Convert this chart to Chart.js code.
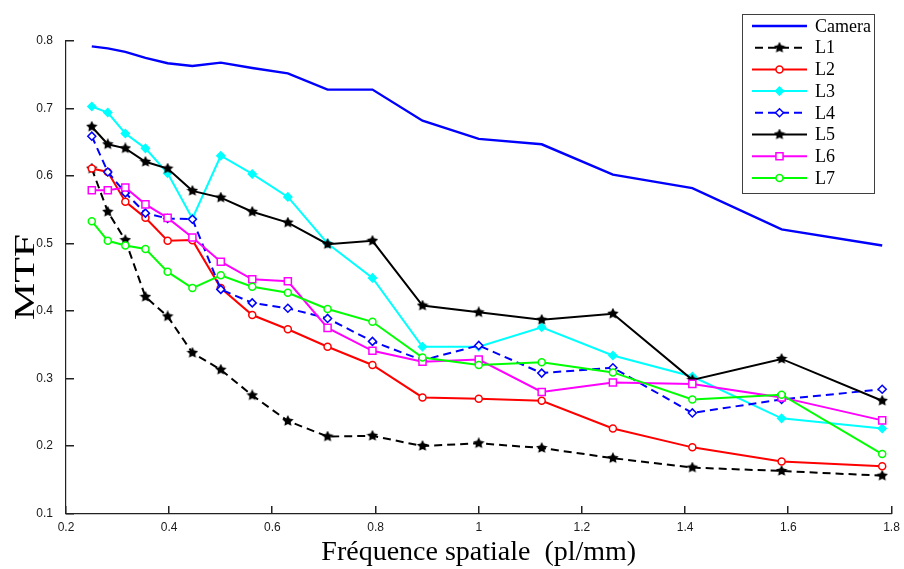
<!DOCTYPE html>
<html>
<head>
<meta charset="utf-8">
<title>MTF</title>
<script src="https://cdn.jsdelivr.net/npm/chart.js@4.4.1/dist/chart.umd.min.js"></script>
<style>
  html, body { margin: 0; padding: 0; background: #fff; }
  #wrap { position: relative; width: 904px; height: 569px; }
</style>
</head>
<body>
<div id="wrap"><canvas id="mtfChart"></canvas></div>
<script>
  'use strict';

  // Spatial frequencies (pl/mm), shared by every curve
  const freq = [0.25, 0.281, 0.315, 0.354, 0.397, 0.445, 0.5, 0.561, 0.63,
    0.707, 0.794, 0.891, 1.0, 1.122, 1.26, 1.414, 1.587, 1.782];

  // MTF values
  const camera = [0.792, 0.789, 0.784, 0.775, 0.767, 0.763, 0.768, 0.760, 0.752,
    0.728, 0.728, 0.682, 0.655, 0.647, 0.602, 0.582, 0.521, 0.497];
  const l1 = [0.611, 0.547, 0.505, 0.421, 0.392, 0.338, 0.313, 0.275, 0.237,
    0.214, 0.215, 0.200, 0.204, 0.197, 0.182, 0.168, 0.163, 0.156];
  const l2 = [0.611, 0.606, 0.562, 0.538, 0.504, 0.505, 0.434, 0.394, 0.373,
    0.347, 0.320, 0.272, 0.270, 0.267, 0.226, 0.198, 0.177, 0.170];
  const l3 = [0.703, 0.694, 0.663, 0.641, 0.604, 0.537, 0.630, 0.603, 0.569,
    0.500, 0.449, 0.347, 0.347, 0.376, 0.334, 0.303, 0.241, 0.226];
  const l4 = [0.659, 0.606, 0.575, 0.545, 0.537, 0.536, 0.432, 0.412, 0.404,
    0.389, 0.355, 0.327, 0.349, 0.308, 0.316, 0.249, 0.269, 0.284];
  const l5 = [0.673, 0.647, 0.641, 0.621, 0.611, 0.578, 0.568, 0.547, 0.531,
    0.499, 0.504, 0.408, 0.398, 0.387, 0.396, 0.298, 0.329, 0.267];
  const l6 = [0.579, 0.579, 0.583, 0.558, 0.538, 0.509, 0.473, 0.447, 0.444,
    0.375, 0.341, 0.325, 0.328, 0.280, 0.294, 0.292, 0.272, 0.238];
  const l7 = [0.533, 0.504, 0.497, 0.492, 0.458, 0.434, 0.453, 0.436, 0.427,
    0.403, 0.384, 0.331, 0.320, 0.324, 0.309, 0.269, 0.276, 0.188];

  // Axis ticks
  const xTicks = [0.2, 0.4, 0.6, 0.8, 1.0, 1.2, 1.4, 1.6, 1.8];
  const xTickLabels = ['0.2', '0.4', '0.6', '0.8', '1', '1.2', '1.4', '1.6', '1.8'];
  const yTicks = [0.1, 0.2, 0.3, 0.4, 0.5, 0.6, 0.7, 0.8];
  const yTickLabels = ['0.1', '0.2', '0.3', '0.4', '0.5', '0.6', '0.7', '0.8'];

  const SERIF = "'Liberation Serif', 'Times New Roman', serif";
  const SANS = "'Liberation Sans', Arial, sans-serif";
  const AXIS_COLOR = '#222';

  // Filled star marker, like matlab's pentagram
  const makeStar = (size, color) => {
    const c = document.createElement('canvas');
    c.width = size; c.height = size;
    const g = c.getContext('2d');
    const cx = size / 2, cy = size / 2, ro = size / 2, ri = ro * 0.5;
    g.beginPath();
    for (let i = 0; i < 10; i++) {
      const r = i % 2 ? ri : ro;
      const a = -Math.PI / 2 + i * Math.PI / 5;
      g.lineTo(cx + r * Math.cos(a), cy + r * Math.sin(a));
    }
    g.closePath();
    g.fillStyle = color;
    g.fill();
    return c;
  };
  const star = makeStar(12, '#000');

  const toXY = (ys) => ys.map((y, i) => ({ x: freq[i], y: y }));

  const series = (label, values, color, extra) => Object.assign({
    label: label,
    data: toXY(values),
    borderColor: color,
    backgroundColor: color,
    borderWidth: 2,
    pointRadius: 3.5,
    pointBorderWidth: 1.5,
    pointBorderColor: color,
    pointBackgroundColor: '#fff',
    tension: 0
  }, extra);

  const datasets = [
    series('Camera', camera, '#0000ff', { pointRadius: 0, borderWidth: 2.4, order: 7 }),
    series('L1', l1, '#000000', { borderDash: [8, 5], pointStyle: star, order: 6 }),
    series('L2', l2, '#ff0000', { pointStyle: 'circle', order: 5 }),
    series('L3', l3, '#00ffff', { pointStyle: 'rectRot', pointBackgroundColor: '#00ffff', pointRadius: 4, order: 4 }),
    series('L4', l4, '#0000ff', { borderDash: [8, 5], pointStyle: 'rectRot', pointRadius: 4, order: 3 }),
    series('L5', l5, '#000000', { pointStyle: star, order: 2 }),
    series('L6', l6, '#ff00ff', { pointStyle: 'rect', pointRadius: 5, order: 1 }),
    series('L7', l7, '#00ff00', { pointStyle: 'circle', order: 0 })
  ];

  // Inward tick marks, placed with the library's own scales
  const inwardTicksPlugin = {
    id: 'inwardTicks',
    afterDraw(chart) {
      const ctx = chart.ctx;
      const xs = chart.scales.x, ys = chart.scales.y;
      const len = 8;
      ctx.save();
      ctx.setLineDash([]);
      ctx.fillStyle = AXIS_COLOR;
      xs.ticks.forEach((t) => {
        const px = Math.round(xs.getPixelForValue(t.value));
        ctx.fillRect(px - 1, Math.round(xs.top) - len, 1.5, len);
      });
      ys.ticks.forEach((t) => {
        const py = Math.round(ys.getPixelForValue(t.value));
        ctx.fillRect(Math.round(ys.right), py - 1, len, 1.5);
      });
      ctx.restore();
    }
  };

  // Vertical "MTF" label, stretched along its length as in the figure
  const yTitlePlugin = {
    id: 'yTitle',
    afterDraw(chart) {
      const ctx = chart.ctx;
      ctx.save();
      ctx.translate(26, 277);
      ctx.rotate(-Math.PI / 2);
      ctx.scale(1.4, 1);
      ctx.font = '30px ' + SERIF;
      ctx.fillStyle = '#000';
      ctx.textAlign = 'center';
      ctx.textBaseline = 'middle';
      ctx.fillText('MTF', 0, 0);
      ctx.restore();
    }
  };

  // Boxed legend with line + marker samples, matlab style
  const legendPlugin = {
    id: 'boxLegend',
    afterDraw(chart) {
      const ctx = chart.ctx;
      const box = { x: 742.5, y: 14.5, w: 132, h: 179 };
      const rowY0 = 26, rowStep = 21.7;
      ctx.save();
      ctx.fillStyle = '#fff';
      ctx.fillRect(box.x, box.y, box.w, box.h);
      ctx.strokeStyle = '#404040';
      ctx.lineWidth = 1;
      ctx.strokeRect(box.x, box.y, box.w, box.h);

      chart.data.datasets.forEach((ds, i) => {
        const y = rowY0 + i * rowStep;
        ctx.save();
        ctx.strokeStyle = ds.borderColor;
        ctx.lineWidth = ds.borderWidth;
        ctx.setLineDash(ds.borderDash || []);
        ctx.beginPath();
        ctx.moveTo(ds.borderDash ? 755 : 752, y);
        ctx.lineTo(807, y);
        ctx.stroke();
        ctx.restore();

        const pt = chart.getDatasetMeta(i).data[0];
        if (pt && ds.pointRadius !== 0 && Chart.helpers && Chart.helpers.drawPoint) {
          const o = pt.options;
          ctx.save();
          ctx.strokeStyle = o.borderColor;
          ctx.fillStyle = o.backgroundColor;
          ctx.lineWidth = o.borderWidth;
          ctx.setLineDash([]);
          Chart.helpers.drawPoint(ctx, {
            pointStyle: o.pointStyle,
            rotation: o.rotation,
            radius: o.radius,
            borderWidth: o.borderWidth
          }, 779.5, y);
          ctx.restore();
        }

        ctx.fillStyle = '#000';
        ctx.font = '18px ' + SERIF;
        ctx.textAlign = 'left';
        ctx.textBaseline = 'middle';
        ctx.fillText(ds.label, 815, y + 1);
      });
      ctx.restore();
    }
  };

  const ctx = document.getElementById('mtfChart');
  new Chart(ctx, {
    type: 'line',
    data: { datasets: datasets },
    options: {
      responsive: true,
      maintainAspectRatio: false,
      animation: false,
      events: [],
      layout: { padding: { left: 0, right: 12.5, top: 41, bottom: 0 } },
      plugins: {
        legend: { display: false },
        tooltip: { enabled: false }
      },
      scales: {
        x: {
          type: 'linear',
          min: 0.2,
          max: 1.8,
          afterBuildTicks: (scale) => { scale.ticks = xTicks.map(v => ({ value: v })); },
          afterFit: (scale) => { scale.height = 55.5; },
          ticks: {
            autoSkip: false,
            maxRotation: 0,
            padding: 3,
            color: '#1a1a1a',
            font: { family: SANS, size: 12, lineHeight: 1.85 },
            callback: (v, i) => xTickLabels[i]
          },
          grid: { drawOnChartArea: false, drawTicks: false },
          border: { display: true, color: AXIS_COLOR, width: 1.2 },
          title: {
            display: true,
            text: 'Fréquence spatiale  (pl/mm)',
            color: '#000',
            font: { family: SERIF, size: 28 },
            padding: { top: 0, bottom: 0 }
          }
        },
        y: {
          type: 'linear',
          min: 0.1,
          max: 0.8,
          afterBuildTicks: (scale) => { scale.ticks = yTicks.map(v => ({ value: v })); },
          afterFit: (scale) => { scale.width = 66; },
          ticks: {
            autoSkip: false,
            padding: 13,
            color: '#1a1a1a',
            font: { family: SANS, size: 12 },
            callback: (v, i) => yTickLabels[i]
          },
          grid: { drawOnChartArea: false, drawTicks: false },
          border: { display: true, color: AXIS_COLOR, width: 1.2 }
        }
      }
    },
    plugins: [inwardTicksPlugin, yTitlePlugin, legendPlugin]
  });
</script>
</body>
</html>
